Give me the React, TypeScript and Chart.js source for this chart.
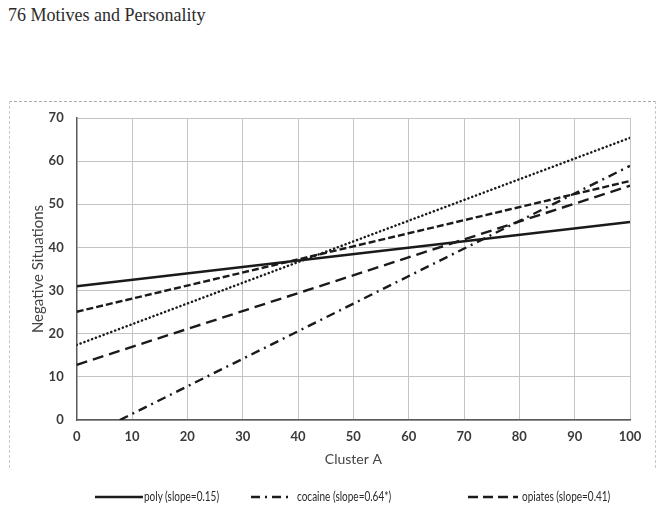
import React, { useEffect, useRef } from "react";
import { Chart, registerables } from "chart.js";

Chart.register(...registerables);

// Cluster A scores along the x axis (fitted lines need only the end points)
const clusterA = [0, 100];
const xTicks = [0, 10, 20, 30, 40, 50, 60, 70, 80, 90, 100];

// Fitted regression lines: [start x, start y], [end x, end y]
const polyLine = [
  { x: 0, y: 31 },
  { x: 100, y: 45.9 },
];
const cocaineLine = [
  { x: 7.8, y: 0 },
  { x: 100, y: 58.9 },
];
const opiatesLine = [
  { x: 0, y: 12.8 },
  { x: 100, y: 54.3 },
];
const shortDashLine = [
  { x: 0, y: 25.1 },
  { x: 100, y: 55.4 },
];
const dottedLine = [
  { x: 0, y: 17.4 },
  { x: 100, y: 65.4 },
];

const legendLabels = ["poly (slope=0.15)", "cocaine (slope=0.64*)", "opiates (slope=0.41)"];

const INK = "#1a1a1a";
const AXIS_FONT = "Lato, 'Open Sans', sans-serif";

export default function App() {
  const canvasRef = useRef<HTMLCanvasElement | null>(null);

  useEffect(() => {
    const canvas = canvasRef.current;
    if (!canvas) return;
    const mk = (label: string, data: { x: number; y: number }[], dash: number[], width: number, cap: CanvasLineCap = "butt") => ({
      label,
      data,
      borderColor: INK,
      backgroundColor: INK,
      borderWidth: width,
      borderDash: dash,
      borderCapStyle: cap,
      pointRadius: 0,
      fill: false,
      tension: 0,
    });
    const chart = new Chart(canvas, {
      type: "line",
      data: {
        datasets: [
          mk(legendLabels[0], polyLine, [], 2.4),
          mk(legendLabels[1], cocaineLine, [9, 5, 2, 5], 2.4),
          mk(legendLabels[2], opiatesLine, [11, 6], 2.4),
          mk("short dash", shortDashLine, [7, 3], 2.4),
          mk("dotted", dottedLine, [0.1, 4], 2.5, "round"),
        ],
      },
      options: {
        animation: false,
        responsive: false,
        maintainAspectRatio: false,
        layout: { padding: { top: 118, left: 25, right: 31, bottom: 36 } },
        plugins: {
          legend: { display: false },
          tooltip: { enabled: false },
        },
        scales: {
          x: {
            type: "linear",
            min: clusterA[0],
            max: clusterA[1],
            afterBuildTicks: (s: any) => {
              s.ticks = xTicks.map((v) => ({ value: v }));
            },
            afterFit: (s: any) => {
              s.height = 52;
            },
            grid: { color: "#c4c4c4", lineWidth: 1, drawTicks: false },
            border: { display: true, color: "#5a5a5a", width: 1.5 },
            ticks: {
              padding: 9,
              color: "#3a3a3a",
              font: { family: AXIS_FONT, size: 13, weight: "bold" },
              maxRotation: 0,
            },
            title: {
              display: true,
              text: "Cluster A",
              color: "#444",
              font: { family: AXIS_FONT, size: 14 },
              padding: { top: 4, bottom: 4 },
            },
          },
          y: {
            type: "linear",
            min: 0,
            max: 70,
            afterFit: (s: any) => {
              s.width = 51.7;
            },
            grid: { color: "#c4c4c4", lineWidth: 1, drawTicks: false },
            border: { display: true, color: "#5a5a5a", width: 1.5 },
            ticks: {
              stepSize: 10,
              padding: 13,
              color: "#3a3a3a",
              font: { family: AXIS_FONT, size: 13, weight: "bold" },
            },
            title: {
              display: true,
              text: "Negative Situations",
              color: "#444",
              font: { family: AXIS_FONT, size: 15 },
              padding: { top: 4, bottom: 4 },
            },
          },
        },
      },
    });
    return () => chart.destroy();
  }, []);

  const legendText: React.CSSProperties = {
    position: "absolute",
    top: 489,
    fontFamily: AXIS_FONT,
    fontSize: 12.5,
    color: "#2a2a2a",
    whiteSpace: "nowrap",
    lineHeight: "16px",
    transform: "scaleX(0.8)",
    transformOrigin: "left center",
  };

  return (
    <div style={{ position: "fixed", left: 0, top: 0, width: 661, height: 508, background: "#fff", overflow: "hidden" }}>
      <div
        style={{
          position: "absolute",
          left: 8,
          top: 5,
          fontFamily: "'Liberation Serif', 'Times New Roman', serif",
          fontSize: 18,
          color: "#2b2b2b",
          whiteSpace: "nowrap",
        }}
      >
        76 Motives and Personality
      </div>
      {/* frame around the chart */}
      <div
        style={{
          position: "absolute",
          left: 9,
          top: 101,
          width: 645,
          height: 366,
          borderTop: "1px dashed #aaaaaa",
          borderLeft: "1px dashed #c8c8c8",
          borderRight: "1px dashed #c8c8c8",
        }}
      />
      <canvas ref={canvasRef} width={661} height={508} style={{ position: "absolute", left: 0, top: 0 }} />
      <svg width={661} height={508} style={{ position: "absolute", left: 0, top: 0, pointerEvents: "none" }}>
        <line x1={95} y1={497} x2={143} y2={497} stroke={INK} strokeWidth={2.4} />
        <line x1={251} y1={497} x2={289} y2={497} stroke={INK} strokeWidth={2.4} strokeDasharray="9 5 2 5" />
        <line x1={468} y1={497} x2={518} y2={497} stroke={INK} strokeWidth={2.4} strokeDasharray="10 5" />
      </svg>
      <div style={{ ...legendText, left: 144 }}>{legendLabels[0]}</div>
      <div style={{ ...legendText, left: 297 }}>{legendLabels[1]}</div>
      <div style={{ ...legendText, left: 522 }}>{legendLabels[2]}</div>
    </div>
  );
}
